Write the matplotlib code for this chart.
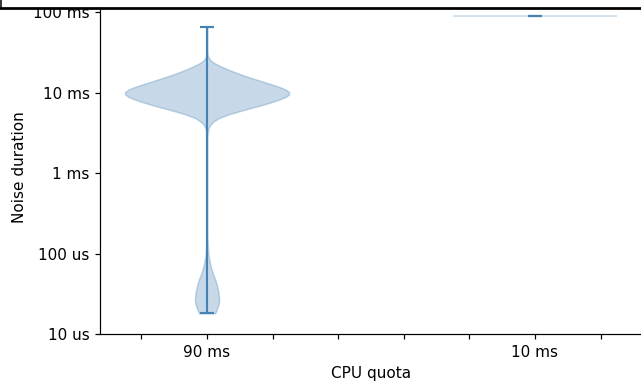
import numpy as np
import matplotlib
matplotlib.use("Agg")
import matplotlib.pyplot as plt
from matplotlib.lines import Line2D
from matplotlib.patches import Rectangle

# CPU quota per run and where each violin sits on the x axis
quotas = ["90 ms", "10 ms"]
positions = [1, 2]

# noise duration profile for the 90 ms quota, log10(seconds) vs relative density
log_dur_90 = [-4.743, -4.701, -4.652, -4.602, -4.552, -4.478, -4.403, -4.328,
              -4.254, -4.179, -4.104, -4.030, -3.930, -3.769, -3.458, -3.085,
              -2.711, -2.525, -2.450, -2.400, -2.357, -2.313, -2.270, -2.233,
              -2.195, -2.158, -2.121, -2.083, -2.052, -2.021, -1.990, -1.959,
              -1.928, -1.891, -1.847, -1.803, -1.760, -1.716, -1.673, -1.629,
              -1.592, -1.542, -1.468, -1.343, -1.185]
density_90 = [0.098, 0.116, 0.134, 0.146, 0.146, 0.138, 0.122, 0.101,
              0.073, 0.049, 0.033, 0.018, 0.010, 0.004, 0.001, 0.001,
              0.002, 0.005, 0.015, 0.037, 0.079, 0.146, 0.256, 0.378,
              0.512, 0.646, 0.768, 0.878, 0.951, 0.994, 0.994, 0.951,
              0.878, 0.768, 0.634, 0.500, 0.378, 0.268, 0.171, 0.085,
              0.037, 0.010, 0.002, 0.001, 0.000]

# the 10 ms quota run: every noise sample was 90 ms long
log_dur_10 = [np.log10(0.09), np.log10(0.09)]
density_10 = [1.0, 1.0]

# y ticks in log10(seconds)
ytick_pos = [-5, -4, -3, -2, -1]
ytick_labels = ["10 us", "100 us", "1 ms", "10 ms", "100 ms"]

color = "steelblue"


def stats(coords, vals):
    return {"coords": np.array(coords), "vals": np.array(vals),
            "mean": np.mean(coords), "median": np.median(coords),
            "min": min(coords), "max": max(coords)}


vpstats = [stats(log_dur_90, density_90), stats(log_dur_10, density_10)]

W, H, DPI = 641, 383, 110
fig = plt.figure(figsize=(W / DPI, H / DPI), dpi=DPI)
ax = fig.add_axes([100.5 / W, 49 / H, 541 / W, 334 / H])

parts = ax.violin(vpstats, positions=positions, widths=0.5,
                  showmeans=False, showextrema=False, showmedians=False)
for body in parts["bodies"]:
    body.set_facecolor(color)
    body.set_edgecolor(color)
    body.set_linewidth(1.0)
    body.set_alpha(0.3)

# stems and short caps
mins = [s["min"] for s in vpstats]
maxs = [s["max"] for s in vpstats]
cap = 0.021
ax.vlines(positions, mins, maxs, color=color, lw=1.4)
ax.hlines(maxs, [p - cap for p in positions], [p + cap for p in positions],
          color=color, lw=1.4)
ax.hlines(mins, [p - cap for p in positions], [p + cap for p in positions],
          color=color, lw=1.4)

ax.set_xlim(0.675, 2.325)
ax.set_ylim(-5, -5 + 334 / 80.4)
ax.spines["top"].set_visible(False)

ax.set_xticks(np.arange(0.8, 2.21, 0.2))
ax.set_xticklabels(["", quotas[0], "", "", "", "", quotas[1], ""])
ax.set_yticks(ytick_pos)
ax.set_yticklabels(ytick_labels)
ax.set_xlabel("CPU quota")
ax.set_ylabel("Noise duration")

# frame edge across the top
fig.add_artist(Rectangle((0, 1 - 7 / H), 1, 7 / H, transform=fig.transFigure,
                         color="white", zorder=10))
fig.add_artist(Line2D([0, 1], [1 - 8.3 / H] * 2, transform=fig.transFigure,
                      color="black", lw=1.8, zorder=11))
fig.add_artist(Line2D([0.5 / W] * 2, [1, 1 - 8.3 / H], transform=fig.transFigure,
                      color="black", lw=1.0, zorder=11))

fig.savefig("out.png", dpi=DPI)
